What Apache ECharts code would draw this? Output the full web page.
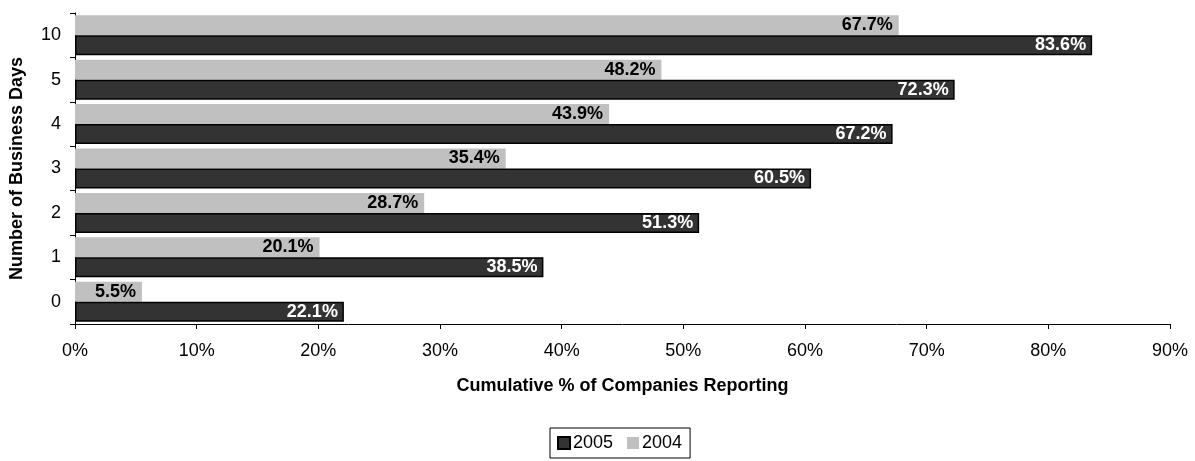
<!DOCTYPE html>
<html>
<head>
<meta charset="utf-8">
<style>
  html, body { margin: 0; padding: 0; background: #ffffff; }
  #chart { width: 1195px; height: 461px; }
</style>
<script src="https://cdn.jsdelivr.net/npm/echarts@6/dist/echarts.min.js"></script>
</head>
<body>
<div id="chart"></div>
<script>
const categories = ['0', '1', '2', '3', '4', '5', '10'];
const values2005 = [22.1, 38.5, 51.3, 60.5, 67.2, 72.3, 83.6];
const values2004 = [5.5, 20.1, 28.7, 35.4, 43.9, 48.2, 67.7];
const xTicks = [0, 10, 20, 30, 40, 50, 60, 70, 80, 90];

const FONT = '"Liberation Sans", Arial, sans-serif';
const chart = echarts.init(document.getElementById('chart'), null, { renderer: 'canvas' });

const pctLabel = (p) => p.value.toFixed(1) + '%';

chart.setOption({
  animation: false,
  backgroundColor: '#ffffff',
  textStyle: { fontFamily: FONT },
  grid: { left: 75, right: 25, top: 13, bottom: 137, containLabel: false },
  legend: {
    data: ['2005', '2004'],
    left: 550,
    top: 428,
    orient: 'horizontal',
    icon: 'rect',
    itemWidth: 12,
    itemHeight: 12,
    itemGap: 14,
    padding: [6, 8, 6, 7],
    borderColor: '#000000',
    borderWidth: 1,
    textStyle: { fontFamily: FONT, fontSize: 18, color: '#000000', padding: [0, 0, 0, -2] }
  },
  xAxis: {
    type: 'value',
    min: xTicks[0],
    max: xTicks[xTicks.length - 1],
    interval: 10,
    name: 'Cumulative % of Companies Reporting',
    nameLocation: 'middle',
    nameGap: 53,
    nameTextStyle: { fontFamily: FONT, fontSize: 18, fontWeight: 'bold', color: '#000000' },
    axisLine: { show: true, lineStyle: { color: '#000000', width: 1 } },
    axisTick: { show: true, length: 5, lineStyle: { color: '#000000' } },
    splitLine: { show: false },
    axisLabel: {
      fontFamily: FONT, fontSize: 18, color: '#000000', margin: 18,
      formatter: (v) => v + '%'
    }
  },
  yAxis: {
    type: 'category',
    data: categories,
    name: 'Number of Business Days',
    nameLocation: 'middle',
    nameGap: 49,
    nameTextStyle: { fontFamily: FONT, fontSize: 18, fontWeight: 'bold', color: '#000000' },
    axisLine: { show: true, lineStyle: { color: '#000000', width: 1 } },
    axisTick: { show: true, length: 5, lineStyle: { color: '#000000' } },
    axisLabel: { fontFamily: FONT, fontSize: 18, color: '#000000', margin: 14 },
    splitLine: { show: false }
  },
  series: [
    {
      name: '2004',
      type: 'bar',
      data: values2004,
      barGap: '0%',
      barCategoryGap: '10%',
      itemStyle: { color: '#C0C0C0', borderWidth: 0 },
      label: {
        show: true, position: 'insideRight', distance: 6,
        formatter: pctLabel,
        fontFamily: FONT, fontSize: 18, fontWeight: 'bold', color: '#000000'
      }
    },
    {
      name: '2005',
      type: 'bar',
      data: values2005,
      barGap: '0%',
      barCategoryGap: '10%',
      itemStyle: { color: '#333333', borderColor: '#000000', borderWidth: 1.5 },
      label: {
        show: true, position: 'insideRight', distance: 6,
        formatter: pctLabel,
        fontFamily: FONT, fontSize: 18, fontWeight: 'bold', color: '#ffffff'
      }
    }
  ]
});
</script>
</body>
</html>
